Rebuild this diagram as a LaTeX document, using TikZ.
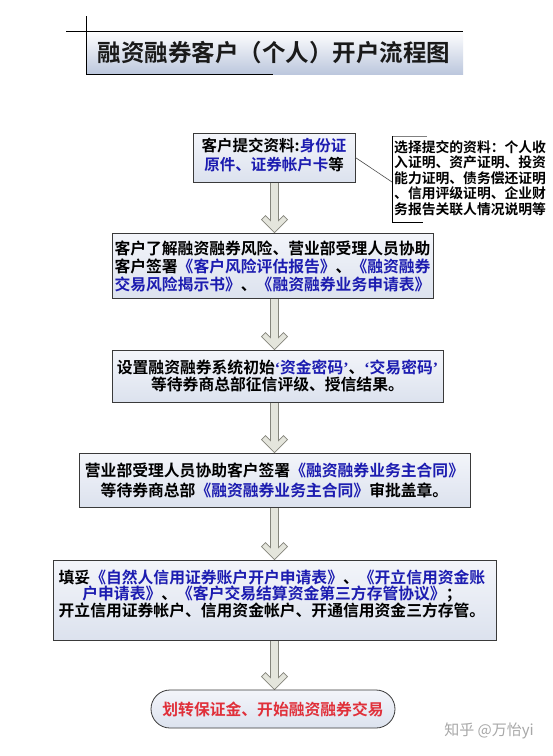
\documentclass[tikz,border=0pt]{standalone}
\usepackage{fontspec}
\setmainfont{Noto Sans CJK SC}[BoldFont={* Bold}]
\newfontfamily\latq{Liberation Serif}
\usetikzlibrary{calc}
\definecolor{txtblue}{HTML}{1C1CB0}
\definecolor{boxtop}{HTML}{F3F5FA}
\definecolor{boxbot}{HTML}{DCE2EE}
\definecolor{boxline}{HTML}{3A3A3A}
\definecolor{arrfill}{HTML}{E4E5DC}
\definecolor{arrline}{HTML}{85857C}
\definecolor{redtxt}{HTML}{E0303A}
\definecolor{titlebot}{HTML}{BCC7DD}
\definecolor{titletxt}{HTML}{1A1A1A}
\definecolor{wmark}{HTML}{A8A8A8}
\newcommand\myLq{{\latq\bfseries ‘}}
\newcommand\myRq{{\latq\bfseries ’}}
\pgfdeclarelayer{bgzero}
\pgfdeclarelayer{arrowlayer}
\pgfsetlayers{bgzero,arrowlayer,main}
\newcommand\flowarrow[2]{%
  \begin{pgfonlayer}{arrowlayer}
  \draw[arrowbody]
    ($(ax |- #1.south)+(-4,-1)$) --
    ($(ax |- #2.north)+(-4,-12)$) --
    ($(ax |- #2.north)+(-9,-17)$) --
    ($(ax |- #2.north)+(-13,-13)$) --
    (ax |- #2.north) --
    ($(ax |- #2.north)+(13,-13)$) --
    ($(ax |- #2.north)+(9,-17)$) --
    ($(ax |- #2.north)+(4,-12)$) --
    ($(ax |- #1.south)+(4,-1)$) -- cycle;
  \end{pgfonlayer}}
\begin{document}
\begin{tikzpicture}[x=1pt,y=-1pt,
  box/.style={draw=boxline, line width=0.8pt, top color=boxtop, bottom color=boxbot, inner sep=0pt},
  boxtext/.style={align=center, inner sep=0pt},
  arrowbody/.style={draw=arrline, fill=arrfill, line width=0.8pt, line join=miter},
  rule/.style={line width=0.8pt, draw=black}
]
\begin{pgfonlayer}{bgzero}
\fill[white] (0,0) rectangle (553,756);
\end{pgfonlayer}
\useasboundingbox (0,0) rectangle (553,756);
\coordinate (ax) at (274.5,0);

% title
\shade[top color=white, bottom color=titlebot] (86,31) rectangle (463,74);
\draw[rule] (66,31) -- (463,31);
\draw[rule] (86,16) -- (86,74) -- (273,74);
\node[font=\bfseries\fontsize{23.5}{26}\selectfont, text=titletxt] (title) at (274,53) {融资融券客户（个人）开户流程图};

% box 1
\node[box, minimum width=162pt, minimum height=49pt] (b1) at (274,157.5) {};
\node[boxtext, font=\bfseries\fontsize{15.5}{19}\selectfont] (t1) at (274,155)
  {客户提交资料:\textcolor{txtblue}{身份证}\\\textcolor{txtblue}{原件、证券帐户卡}等};

% note
\node[font=\bfseries\fontsize{13.8}{15.5}\selectfont, align=left, inner sep=0pt, anchor=west] (note) at (394,178)
  {选择提交的资料：个人收\\入证明、资产证明、投资\\能力证明、债务偿还证明\\、信用评级证明、企业财\\务报告关联人情况说明等};
\draw[line width=0.6pt, draw=gray] (427,136) -- (392,136);
\draw[rule] (392,136) -- (392,222) -- (423,222);
\coordinate (nl) at (392,182);
\draw[line width=0.6pt, draw=black!70] (b1.east) -- (nl);

% box 2
\node[box, minimum width=321pt, minimum height=65pt] (b2) at (272.5,265.5) {};
\node[boxtext, align=left, font=\bfseries\fontsize{15.8}{18}\selectfont] (t2) at (272.5,266)
  {客户了解融资融券风险、营业部受理人员协助\\
   客户签署\textcolor{txtblue}{《客户风险评估报告》}、\textcolor{txtblue}{《融资融券}\\
   \textcolor{txtblue}{交易风险揭示书》}、\textcolor{txtblue}{《融资融券业务申请表》}};

% box 3
\node[box, minimum width=331pt, minimum height=52pt] (b3) at (277.5,376) {};
\node[boxtext, font=\bfseries\fontsize{15.8}{17}\selectfont] (t3) at (277.5,375.5)
  {设置融资融券系统初始\textcolor{txtblue}{\myLq 资金密码\myRq}、\textcolor{txtblue}{\myLq 交易密码\myRq}\\
   等待券商总部征信评级、授信结果。};

% box 4
\node[box, minimum width=391pt, minimum height=54pt] (b4) at (274.5,480) {};
\node[boxtext, font=\bfseries\fontsize{15.8}{20}\selectfont] (t4) at (274.5,480)
  {营业部受理人员协助客户签署\textcolor{txtblue}{《融资融券业务主合同》}\\
   等待券商总部\textcolor{txtblue}{《融资融券业务主合同》}审批盖章。};

% box 5
\node[box, minimum width=443pt, minimum height=80pt] (b5) at (274.5,600) {};
\node[boxtext, font=\bfseries\fontsize{15.8}{16}\selectfont] (t5) at (272,594)
  {填妥\textcolor{txtblue}{《自然人信用证券账户开户申请表》}、\textcolor{txtblue}{《开立信用资金账}\\
   \textcolor{txtblue}{户申请表》}、\textcolor{txtblue}{《客户交易结算资金第三方存管协议》}；\\
   开立信用证券帐户、信用资金帐户、开通信用资金三方存管。};

% end
\node[box, minimum width=244pt, minimum height=38pt, rounded corners=19pt,
      font=\bfseries\fontsize{15.8}{18}\selectfont, text=redtxt] (e) at (273,709)
  {划转保证金、开始融资融券交易};

% arrows
\flowarrow{b1}{b2}
\flowarrow{b2}{b3}
\flowarrow{b3}{b4}
\flowarrow{b4}{b5}
\flowarrow{b5}{e}

% watermark
\node[font=\fontsize{15}{17}\selectfont, text=wmark] (wm) at (489,731) {知乎 @万怡yi};
\end{tikzpicture}
\end{document}
